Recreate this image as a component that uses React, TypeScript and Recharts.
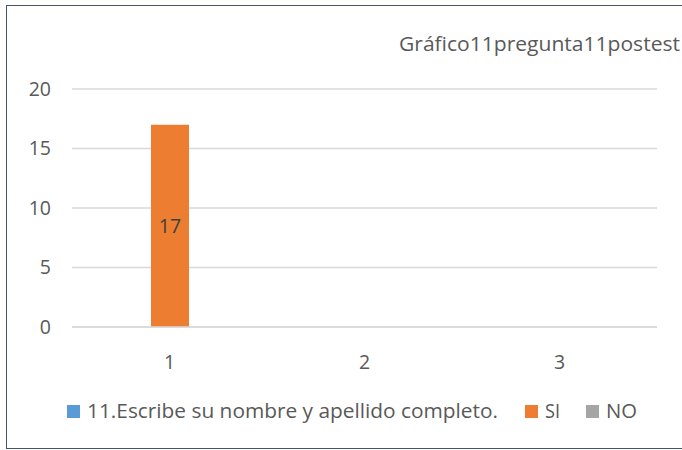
import React from "react";
import { BarChart, Bar, XAxis, YAxis, CartesianGrid, LabelList } from "recharts";

const categories = ["1", "2", "3"];
const pregunta = [0, 0, 0];
const si = [17, 0, 0];
const no = [0, 0, 0];
const yTicks = [0, 5, 10, 15, 20];
const title = "Gráfico11pregunta11postest";
const seriesNames = ["11.Escribe su nombre y apellido completo.", "SI", "NO"];
const colors = ["#5b9bd5", "#ed7d31", "#a5a5a5"];

const data = categories.map((c, i) => ({
  cat: c,
  p: pregunta[i] || null,
  si: si[i] || null,
  no: no[i] || null,
}));

const FONT = "'Open Sans', sans-serif";
const TXT = "#595959";

// legend layout (text widths matched to reference)
const legendItems = [
  { x: 67, w: 411 },
  { x: 525, w: 15 },
  { x: 586, w: 31 },
];

const LegendSvg = () => (
  <svg width={682} height={40} style={{ position: "absolute", left: 0, top: 392 }}>
    {seriesNames.map((n, i) => (
      <g key={n}>
        <rect x={legendItems[i].x} y={13} width={13} height={13} fill={colors[i]} />
        <text
          x={legendItems[i].x + 20}
          y={26}
          fontFamily={FONT}
          fontSize={19.5}
          fill={TXT}
          textLength={legendItems[i].w}
          lengthAdjust="spacingAndGlyphs"
        >
          {n}
        </text>
      </g>
    ))}
  </svg>
);

export default function App() {
  return (
    <div style={{ position: "absolute", left: 0, top: 0, width: 682, height: 450, overflow: "hidden", background: "#fff" }}>
      <div style={{ position: "absolute", left: 6, top: 5, width: 700, height: 444, border: "1.5px solid #44546a", boxSizing: "border-box" }} />
      <div style={{ position: "absolute", left: 0, top: 0 }}>
        <BarChart width={682} height={450} data={data} margin={{ top: 89, right: 25, bottom: 93, left: 0 }} barGap={0} barSize={38}>
          <text x={399} y={51} fontFamily={FONT} fontSize={19.5} fill={TXT} textLength={281} lengthAdjust="spacingAndGlyphs">{title}</text>
          <CartesianGrid vertical={false} stroke="#d9d9d9" strokeWidth={1.5} />
          <XAxis dataKey="cat" height={30} axisLine={{ stroke: "#d9d9d9", strokeWidth: 1.5 }} tickLine={false} tickMargin={22} tick={{ fontFamily: FONT, fontSize: 19.5, fill: TXT }} />
          <YAxis width={72} domain={[0, 20]} ticks={yTicks} axisLine={false} tickLine={false} tickMargin={15} tick={{ fontFamily: FONT, fontSize: 19.5, fill: TXT }} />
          <Bar dataKey="p" name={seriesNames[0]} fill={colors[0]} isAnimationActive={false} />
          <Bar dataKey="si" name={seriesNames[1]} fill={colors[1]} isAnimationActive={false}>
            <LabelList dataKey="si" position="center" style={{ fontFamily: FONT, fontSize: 19.5, fill: "#404040" }} />
          </Bar>
          <Bar dataKey="no" name={seriesNames[2]} fill={colors[2]} isAnimationActive={false} />
        </BarChart>
      </div>
      <LegendSvg />
    </div>
  );
}
